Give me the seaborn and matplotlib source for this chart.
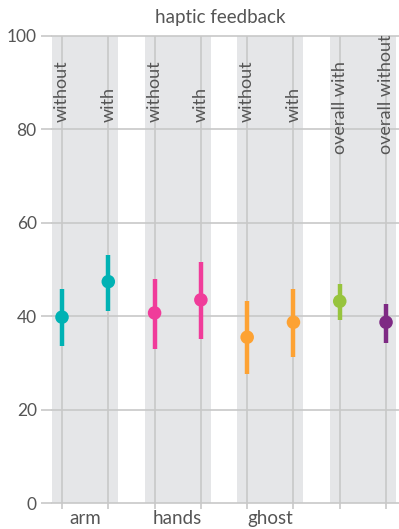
import matplotlib
matplotlib.use("Agg")
import matplotlib.pyplot as plt
import seaborn as sns
import pandas as pd
import numpy as np

conditions = ["without", "with", "without", "with", "without", "with", "overall with", "overall without"]
groups = ["arm", "arm", "hands", "hands", "ghost", "ghost", "overall", "overall"]
group_labels = ["arm", "hands", "ghost", ""]
means = [39.8, 47.4, 40.7, 43.5, 35.5, 38.7, 43.2, 38.7]
ci_low = [33.7, 41.1, 33.0, 35.1, 27.7, 31.2, 39.1, 34.3]
ci_high = [45.8, 53.1, 48.0, 51.7, 43.3, 45.9, 46.8, 42.7]
colors = ["#00B2B4", "#00B2B4", "#F03C9A", "#F03C9A", "#FDA233", "#FDA233", "#97C43D", "#7E2A84"]
yticks = [0, 20, 40, 60, 80, 100]
title = "haptic feedback"

sns.set_theme(style="white")
plt.rcParams["font.family"] = ["Lato", "DejaVu Sans"]

df = pd.DataFrame({"pos": np.arange(len(means)), "mean": means,
                   "lo": ci_low, "hi": ci_high, "cond": conditions})

W, H = 399, 529
fig = plt.figure(figsize=(W / 100, H / 100), dpi=100)
ax = fig.add_axes([52 / W, 26 / H, (399 - 52) / W, (503 - 36) / H])

grid_c = "#C8C8C8"
text_c = "#555555"
band_c = "#E5E6E8"

ax.set_xlim(-0.216, 7.28)
ax.set_ylim(0, 100)

# grey bands around each pair
for g in range(4):
    ax.axvspan(2 * g - 0.216, 2 * g + 1 + 0.216, color=band_c, zorder=0, lw=0)

# grid lines
for y in yticks:
    ax.axhline(y, color=grid_c, lw=1.2, zorder=1, clip_on=False)
for x in df["pos"]:
    ax.axvline(x, color=grid_c, lw=1.2, zorder=1)

# error bars and points
ax.vlines(df["pos"], df["lo"], df["hi"], colors=colors, lw=3.2, zorder=3)
sns.scatterplot(data=df, x="pos", y="mean", ax=ax, c=colors,
                s=95, linewidth=0, zorder=4, legend=False)

# rotated condition labels
for i, lab in enumerate(conditions):
    ybot = 81.6 if i < 6 else 74.7
    ax.text(i, ybot, lab, rotation=90, ha="center", va="bottom",
            fontsize=13, color=text_c, zorder=5)

for s in ax.spines.values():
    s.set_visible(False)

ax.set_yticks(yticks)
ax.set_yticklabels([str(v) for v in yticks])
ax.tick_params(axis="y", length=8, width=1.2, color=grid_c, pad=3,
               labelsize=12.5, labelcolor=text_c, left=True)
ax.set_xticks(df["pos"])
ax.set_xticklabels([""] * len(means))
ax.tick_params(axis="x", which="major", length=4, width=1.2, color=grid_c, bottom=True)
ax.set_xticks([0.5, 2.5, 4.5, 6.5], minor=True)
ax.set_xticklabels(group_labels, minor=True)
ax.tick_params(axis="x", which="minor", length=0, pad=5, labelsize=13.5, labelcolor=text_c)

ax.set_xlabel("")
ax.set_ylabel("")
fig.text(220 / W, 1 - 17 / H, title, ha="center", va="center", fontsize=13.5, color=text_c)

fig.savefig("out.png", dpi=100)
